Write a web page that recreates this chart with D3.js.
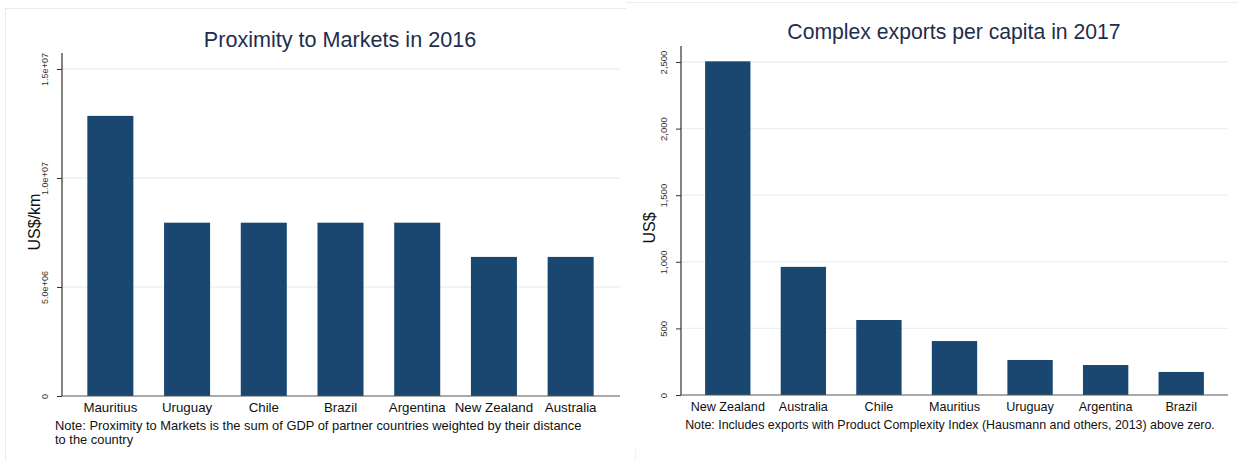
<!DOCTYPE html>
<html>
<head>
<meta charset="utf-8">
<script src="https://cdn.jsdelivr.net/npm/d3@7"></script>
<style>
  html, body { margin: 0; padding: 0; background: #fff; }
  svg { display: block; font-family: "Liberation Sans", Arial, sans-serif; }
</style>
</head>
<body>
<svg id="chart" width="1239" height="461"></svg>
<script>
// ---- Data ----
const proxCountries = ["Mauritius", "Uruguay", "Chile", "Brazil", "Argentina", "New Zealand", "Australia"];
const proxValues = [12850000, 7950000, 7950000, 7950000, 7950000, 6380000, 6380000];
const proxTicks = [0, 5000000, 10000000, 15000000];
const proxTickLabels = ["0", "5.0e+06", "1.0e+07", "1.5e+07"];

const expCountries = ["New Zealand", "Australia", "Chile", "Mauritius", "Uruguay", "Argentina", "Brazil"];
const expValues = [2505, 962, 563, 405, 263, 225, 173];
const expTicks = [0, 500, 1000, 1500, 2000, 2500];
const expTickLabels = ["0", "500", "1,000", "1,500", "2,000", "2,500"];

const BAR = "#1a476f";
const TITLE = "#1f2d4d";
const GRID = "#eaf1f2";
const svg = d3.select("#chart");

// panel borders
svg.append("path").attr("d", "M5.5,461 V8.5 H626").attr("fill", "none").attr("stroke", "#e6eff0").attr("stroke-width", 1.2);
svg.append("path").attr("d", "M626,2.5 H1238").attr("fill", "none").attr("stroke", "#e6eff0").attr("stroke-width", 1.2);
svg.append("path").attr("d", "M635.5,449 V461").attr("fill", "none").attr("stroke", "#eef2f3").attr("stroke-width", 1);

function panel(cfg) {
  const g = svg.append("g");
  const y = d3.scaleLinear().domain([0, cfg.ymax]).range([cfg.y0, cfg.yTop]);
  const x = d3.scaleBand().domain(cfg.cats).range(cfg.xRange).paddingInner(0.4).paddingOuter(0.2);

  // gridlines
  g.selectAll(".grid").data(cfg.ticks.slice(1)).enter().append("line")
    .attr("x1", cfg.axisX).attr("x2", cfg.xEnd)
    .attr("y1", d => y(d)).attr("y2", d => y(d))
    .attr("stroke", GRID).attr("stroke-width", 1.3);

  // bars
  g.selectAll(".bar").data(cfg.vals).enter().append("rect")
    .attr("x", (d, i) => x(cfg.cats[i]))
    .attr("width", x.bandwidth())
    .attr("y", d => y(d))
    .attr("height", d => cfg.y0 - y(d))
    .attr("fill", BAR);

  // y axis
  const yAxis = d3.axisLeft(y).tickValues(cfg.ticks).tickSize(5)
    .tickFormat((d, i) => cfg.tickLabels[i]);
  const ya = g.append("g").attr("transform", `translate(${cfg.axisX},0)`).call(yAxis);
  ya.select(".domain").attr("d", `M-0,${cfg.axisTop} V${cfg.y0}`).attr("stroke", "#333").attr("stroke-width", 1.2);
  ya.selectAll(".tick line").attr("stroke", "#333");
  ya.selectAll(".tick text")
    .attr("x", null).attr("dy", null)
    .attr("transform", "translate(-14,0) rotate(-90)")
    .attr("text-anchor", "middle")
    .attr("font-size", cfg.tickFont).attr("fill", "#333")
    .attr("font-family", "Liberation Sans, Arial, sans-serif");

  // x axis
  const xAxis = d3.axisBottom(x).tickSize(0).tickPadding(7);
  const xa = g.append("g").attr("transform", `translate(0,${cfg.y0})`).call(xAxis);
  xa.select(".domain").attr("d", `M${cfg.axisX},0 H${cfg.xEnd}`).attr("stroke", "#555").attr("stroke-width", 1.2);
  xa.selectAll(".tick text").attr("font-size", cfg.xFont).attr("fill", "#111")
    .attr("font-family", "Liberation Sans, Arial, sans-serif");

  // title
  g.append("text").attr("x", cfg.titleX).attr("y", cfg.titleY).attr("text-anchor", "middle")
    .attr("font-size", cfg.titleFont).attr("fill", TITLE).text(cfg.title);

  // y label
  g.append("text").attr("transform", `translate(${cfg.ylabX},${cfg.ylabY}) rotate(-90)`)
    .attr("text-anchor", "middle").attr("font-size", cfg.ylabFont).attr("fill", "#111").text(cfg.ylab);

  // notes
  cfg.notes.forEach((n, i) => {
    g.append("text").attr("x", cfg.noteX).attr("y", cfg.noteY + i * 13.5)
      .attr("text-anchor", cfg.noteAnchor).attr("font-size", cfg.noteFont).attr("fill", "#111").text(n);
  });
}

panel({
  cats: proxCountries, vals: proxValues, ymax: 15000000,
  ticks: proxTicks, tickLabels: proxTickLabels,
  y0: 396, yTop: 69, axisTop: 53, axisX: 62, xEnd: 620,
  xRange: [72, 609],
  tickFont: 9, xFont: 13.3, titleFont: 21.6, ylabFont: 16, noteFont: 12.9,
  title: "Proximity to Markets in 2016", titleX: 340, titleY: 47,
  ylab: "US$/km", ylabX: 40, ylabY: 222,
  notes: ["Note: Proximity to Markets is the sum of GDP of partner countries weighted by their distance", "to the country"],
  noteX: 55, noteY: 430, noteAnchor: "start"
});

panel({
  cats: expCountries, vals: expValues, ymax: 2500,
  ticks: expTicks, tickLabels: expTickLabels,
  y0: 395, yTop: 62, axisTop: 46, axisX: 681, xEnd: 1228,
  xRange: [690, 1219],
  tickFont: 9.5, xFont: 12.6, titleFont: 21.2, ylabFont: 16, noteFont: 12.4,
  title: "Complex exports per capita in 2017", titleX: 954, titleY: 39,
  ylab: "US$", ylabX: 655, ylabY: 228,
  notes: ["Note: Includes exports with Product Complexity Index (Hausmann and others, 2013) above zero."],
  noteX: 950, noteY: 429, noteAnchor: "middle"
});
</script>
</body>
</html>
